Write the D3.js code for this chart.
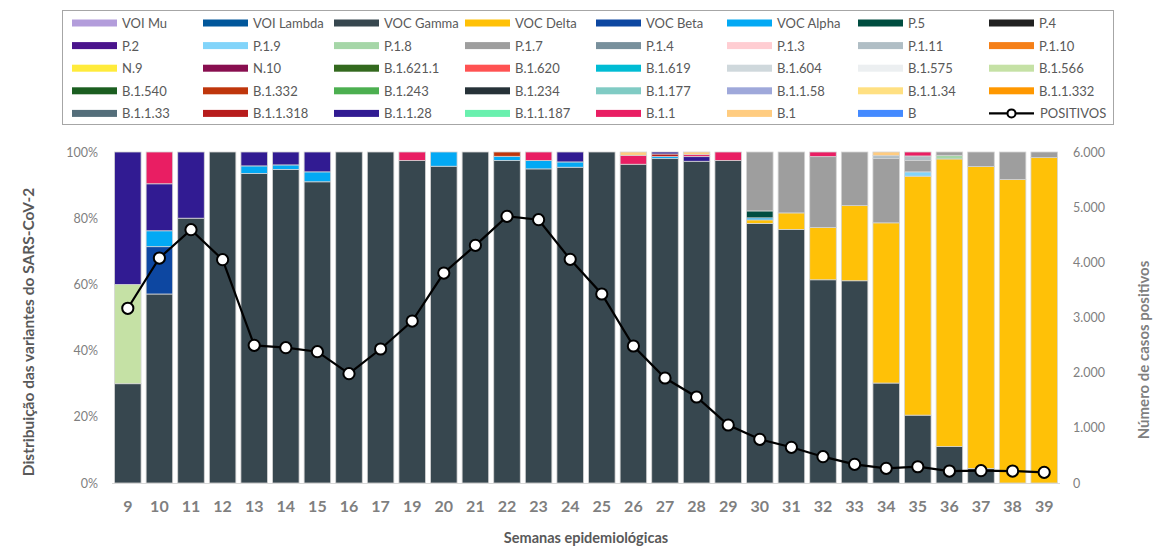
<!DOCTYPE html>
<html>
<head>
<meta charset="utf-8">
<script src="https://cdn.jsdelivr.net/npm/d3@7"></script>
<style>
  html, body { margin: 0; padding: 0; background: #fff; }
  svg { display: block; font-family: Lato, "Open Sans", sans-serif; }
</style>
</head>
<body>
<svg id="chart" width="1154" height="547"></svg>
<script>
// Epidemiological weeks (week 18 has no sequencing data)
const weeks = ["9","10","11","12","13","14","15","16","17","19","20","21","22","23","24","25","26","27","28","29","30","31","32","33","34","35","36","37","38","39"];

// Variant names in stacking / legend order
const variants = ["VOI Mu","VOI Lambda","VOC Gamma","VOC Delta","VOC Beta","VOC Alpha","P.5","P.4",
  "P.2","P.1.9","P.1.8","P.1.7","P.1.4","P.1.3","P.1.11","P.1.10",
  "N.9","N.10","B.1.621.1","B.1.620","B.1.619","B.1.604","B.1.575","B.1.566",
  "B.1.540","B.1.332","B.1.243","B.1.234","B.1.177","B.1.1.58","B.1.1.34","B.1.1.332",
  "B.1.1.33","B.1.1.318","B.1.1.28","B.1.1.187","B.1.1","B.1","B"];

const variantColors = ["#b39ddb","#01579b","#37474f","#ffc107","#0d47a1","#03a9f4","#004d40","#212121",
  "#4a148c","#81d4fa","#a5d6a7","#9e9e9e","#78909c","#ffcdd2","#b0bec5","#f57f17",
  "#ffeb3b","#880e4f","#33691e","#ff5252","#00bcd4","#cfd8dc","#eceff1","#c5e1a5",
  "#1b5e20","#bf360c","#4caf50","#263238","#80cbc4","#9fa8da","#ffe082","#ff9800",
  "#546e7a","#b71c1c","#311b92","#69f0ae","#e91e63","#ffcc80","#448aff"];

// Share of sequenced samples per week (%), one array per detected variant
const gamma   = [30,57.1,80,100,93.5,94.7,91,100,100,97.4,95.7,100,97.4,94.9,95.4,100,96.3,98,97.2,97.4,78.4,76.6,61.4,61.1,30.2,20.5,11,4.4,0,0];
const delta   = [0,0,0,0,0,0,0,0,0,0,0,0,0,0,0,0,0,0,0,0,1.1,5,15.8,22.7,48.4,72.2,86.9,91.2,91.7,98.3];
const beta    = [0,14.3,0,0,0,0,0,0,0,0,0,0,0,0,0,0,0,0,0,0,0,0,0,0,0,0,0,0,0,0];
const alpha   = [0,4.8,0,0,2.3,1.4,3,0,0,0,4.3,0,1.3,2.5,1.6,0,0,0.6,0,0,0.6,0,0,0,0,0,0,0,0,0];
const p5      = [0,0,0,0,0,0,0,0,0,0,0,0,0,0,0,0,0,0,0,0,2.1,0,0,0,0,0,0,0,0,0];
const p19     = [0,0,0,0,0,0,0,0,0,0,0,0,0,0,0,0,0,0,0,0,0,0,0,0,0,1.3,0,0,0,0];
const p18     = [0,0,0,0,0,0,0,0,0,0,0,0,0,0,0,0,0,0,0,0,0,0,0,0,0,0,1.1,0,0,0];
const p17     = [0,0,0,0,0,0,0,0,0,0,0,0,0,0,0,0,0,0,0,0,17.8,18.4,21.4,16.2,19.4,3.4,1,4.4,8.3,1.7];
const p111    = [0,0,0,0,0,0,0,0,0,0,0,0,0,0,0,0,0,0,0,0,0,0,0,0,0.9,1.4,0,0,0,0];
const b1566   = [30,0,0,0,0,0,0,0,0,0,0,0,0,0,0,0,0,0,0,0,0,0,0,0,0,0,0,0,0,0];
const b1332   = [0,0,0,0,0,0,0,0,0,0,0,0,1.3,0,0,0,0,0,0,0,0,0,0,0,0,0,0,0,0,0];
const b11318  = [0,0,0,0,0,0,0,0,0,0,0,0,0,0,0,0,0,0.8,0,0,0,0,0,0,0,0,0,0,0,0];
const b1128   = [40,14.2,20,0,4.2,3.9,6,0,0,0,0,0,0,0,3,0,0,0.6,1.4,0,0,0,0,0,0,0,0,0,0,0];
const b11     = [0,9.6,0,0,0,0,0,0,0,2.6,0,0,0,2.6,0,0,2.7,0,0.6,2.6,0,0,1.4,0,0,1.2,0,0,0,0];
const b1      = [0,0,0,0,0,0,0,0,0,0,0,0,0,0,0,0,1,0,0.8,0,0,0,0,0,1.1,0,0,0,0,0];

// Weekly number of positive cases (right axis)
const positivos = [3167,4078,4592,4048,2496,2453,2380,1982,2429,2936,3806,4308,4834,4773,4054,3426,2483,1903,1559,1051,792,647,477,339,266,295,217,223,217,194];

const leftTicks = [0,20,40,60,80,100];
const rightTicks = [0,1000,2000,3000,4000,5000,6000];

const seriesByName = {
  "VOC Gamma": gamma, "VOC Delta": delta, "VOC Beta": beta, "VOC Alpha": alpha,
  "P.5": p5, "P.1.9": p19, "P.1.8": p18, "P.1.7": p17, "P.1.11": p111,
  "B.1.566": b1566, "B.1.332": b1332, "B.1.1.318": b11318, "B.1.1.28": b1128,
  "B.1.1": b11, "B.1": b1
};

// Row table for d3.stack: one row per week, one column per variant
const rows = weeks.map((w, i) => {
  const r = { week: w };
  variants.forEach(v => { r[v] = seriesByName[v] ? seriesByName[v][i] : 0; });
  return r;
});

const svg = d3.select("#chart");
const plot = { left: 112, right: 1060, top: 152, bottom: 483 };

const x = d3.scaleBand().domain(weeks).range([plot.left, plot.right])
  .paddingInner(0.16).paddingOuter(0.08);
const y = d3.scaleLinear().domain([0, 100]).range([plot.bottom, plot.top]);
const y2 = d3.scaleLinear().domain([0, 6000]).range([plot.bottom, plot.top]);
const color = d3.scaleOrdinal().domain(variants).range(variantColors);

// Stacked bars
const stacked = d3.stack().keys(variants)(rows);
svg.append("g").selectAll("g").data(stacked).join("g")
  .attr("fill", d => color(d.key))
  .selectAll("rect").data(d => d.filter(s => s[1] - s[0] > 0)).join("rect")
  .attr("x", d => x(d.data.week))
  .attr("width", x.bandwidth())
  .attr("y", d => y(d[1]))
  .attr("height", d => y(d[0]) - y(d[1]))
  .attr("stroke", "#d4d4d4")
  .attr("stroke-width", 0.8);

// Category axis
svg.append("line")
  .attr("x1", plot.left).attr("x2", plot.right)
  .attr("y1", plot.bottom + 0.5).attr("y2", plot.bottom + 0.5)
  .attr("stroke", "#d9d9d9").attr("stroke-width", 1.2);

const xAxis = d3.axisBottom(x).tickSize(0).tickPadding(0);
svg.append("g").attr("transform", `translate(0,${plot.bottom})`).call(xAxis)
  .call(g => g.select(".domain").remove())
  .selectAll("text")
  .attr("y", 29).attr("dy", 0)
  .attr("fill", "#7f7f7f")
  .style("font-family", "Lato, sans-serif")
  .style("font-size", "16px").style("font-weight", "bold");

// Left percentage axis
const yAxis = d3.axisLeft(y).tickValues(leftTicks).tickFormat(d => d + "%").tickSize(0).tickPadding(0);
svg.append("g").attr("transform", `translate(${plot.left - 14},0)`).call(yAxis)
  .call(g => g.select(".domain").remove())
  .selectAll("text")
  .attr("fill", "#7f7f7f")
  .style("font-family", "Lato, sans-serif").style("font-size", "12.5px");

// Right cases axis
const fmt = d3.formatLocale({ decimal: ",", thousands: ".", grouping: [3], currency: ["", ""] }).format(",d");
const y2Axis = d3.axisRight(y2).tickValues(rightTicks).tickFormat(fmt).tickSize(0).tickPadding(0);
svg.append("g").attr("transform", `translate(${plot.right + 13},0)`).call(y2Axis)
  .call(g => g.select(".domain").remove())
  .selectAll("text")
  .attr("fill", "#7f7f7f")
  .style("font-family", "Lato, sans-serif").style("font-size", "12.5px");

// Positive cases line with markers
const line = d3.line().x((d, i) => x(weeks[i]) + x.bandwidth() / 2).y(d => y2(d));
svg.append("path").datum(positivos)
  .attr("d", line).attr("fill", "none")
  .attr("stroke", "#000").attr("stroke-width", 2.2);
svg.append("g").selectAll("circle").data(positivos).join("circle")
  .attr("cx", (d, i) => x(weeks[i]) + x.bandwidth() / 2)
  .attr("cy", d => y2(d))
  .attr("r", 5.6)
  .attr("fill", "#fff").attr("stroke", "#000").attr("stroke-width", 2);

// Axis titles
svg.append("text")
  .attr("transform", "translate(28,332) rotate(-90)")
  .attr("text-anchor", "middle").attr("dominant-baseline", "central")
  .attr("fill", "#595959")
  .style("font-size", "15.5px").style("font-weight", "bold")
  .text("Distribuição das variantes do SARS-CoV-2");

svg.append("text")
  .attr("transform", "translate(1143,350) rotate(-90)")
  .attr("text-anchor", "middle").attr("dominant-baseline", "central")
  .attr("fill", "#7f7f7f")
  .style("font-size", "15px").style("font-weight", "bold")
  .text("Número de casos positivos");

svg.append("text")
  .attr("x", 586).attr("y", 543)
  .attr("text-anchor", "middle")
  .attr("fill", "#595959")
  .style("font-size", "14.5px").style("font-weight", "bold")
  .text("Semanas epidemiológicas");

// Legend
const legend = svg.append("g");
legend.append("rect")
  .attr("x", 62.5).attr("y", 10.5).attr("width", 1051).attr("height", 114)
  .attr("fill", "#fff").attr("stroke", "#a6a6a6").attr("stroke-width", 1);

const colStart = 72, colStep = 131, rowStart = 23, rowStep = 22.6, perRow = 8;
const legendItems = variants.map(v => ({ name: v, type: "bar" }))
  .concat([{ name: "POSITIVOS", type: "line" }]);

const items = legend.selectAll("g.item").data(legendItems).join("g")
  .attr("class", "item")
  .attr("transform", (d, i) => `translate(${colStart + (i % perRow) * colStep},${rowStart + Math.floor(i / perRow) * rowStep})`);

items.filter(d => d.type === "bar").append("rect")
  .attr("x", 0).attr("y", -3.5).attr("width", 45).attr("height", 7)
  .attr("fill", d => color(d.name));

const lineItem = items.filter(d => d.type === "line");
lineItem.append("line").attr("x1", 0).attr("x2", 45).attr("y1", 0).attr("y2", 0)
  .attr("stroke", "#000").attr("stroke-width", 2.2);
lineItem.append("circle").attr("cx", 22.5).attr("cy", 0).attr("r", 4)
  .attr("fill", "#fff").attr("stroke", "#000").attr("stroke-width", 2);

items.append("text")
  .attr("x", d => d.type === "line" ? 51 : 50).attr("y", 0)
  .attr("dominant-baseline", "central")
  .attr("fill", "#595959")
  .style("font-size", "13px")
  .text(d => d.name);
</script>
</body>
</html>
